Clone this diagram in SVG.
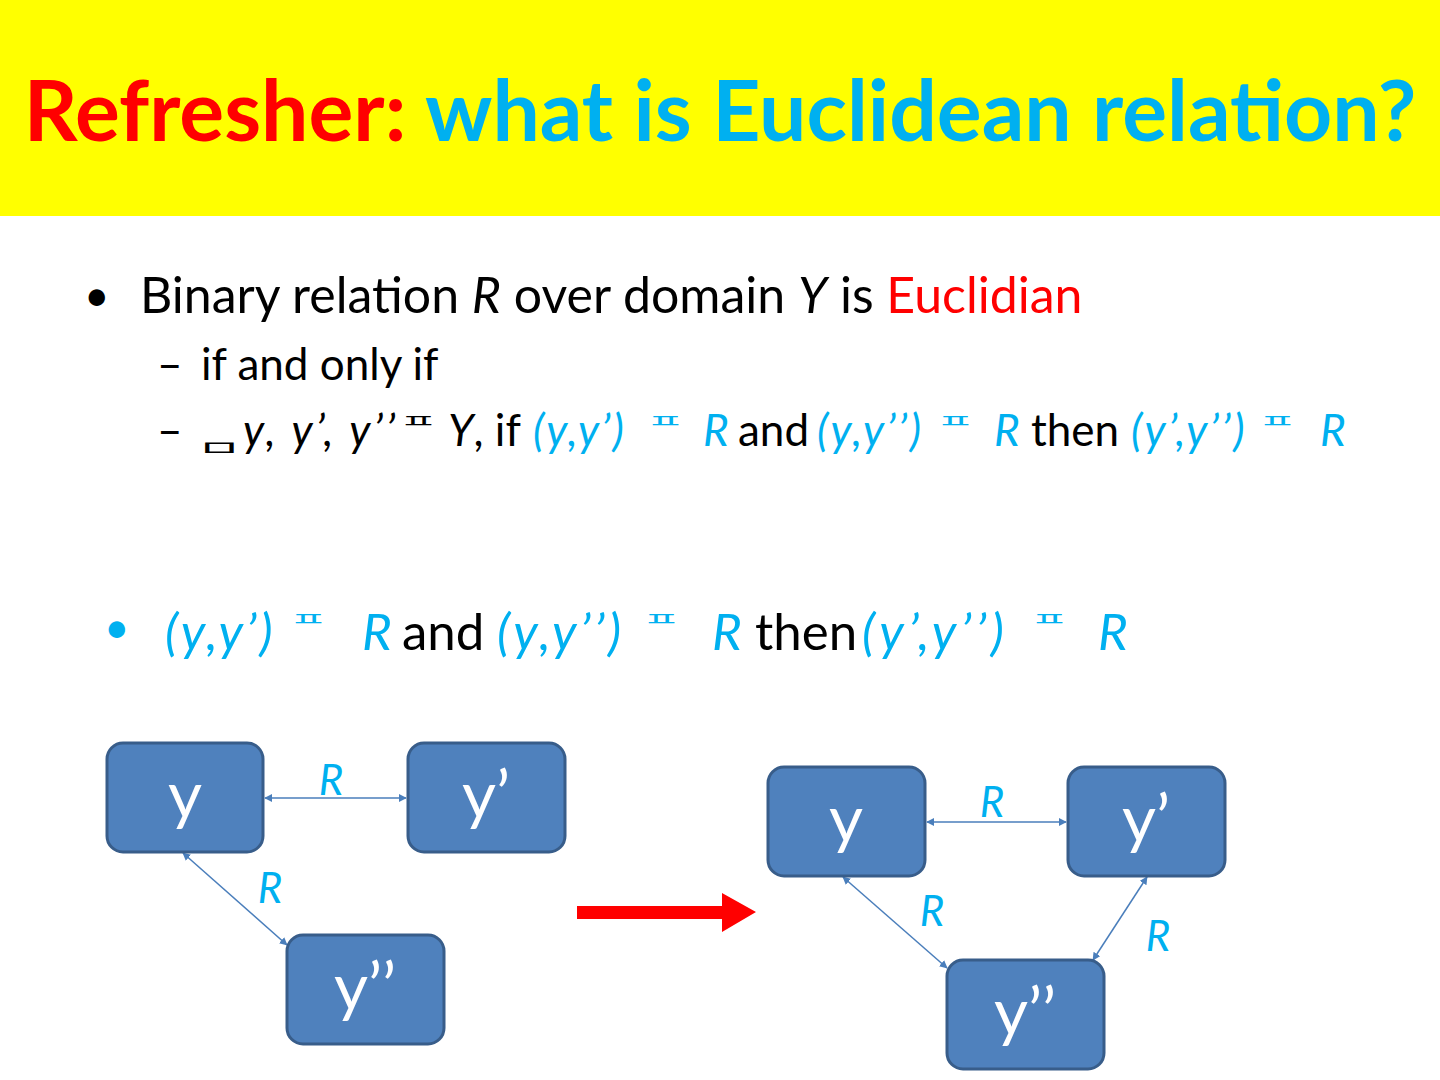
<svg xmlns="http://www.w3.org/2000/svg" width="1440" height="1080" viewBox="0 0 1440 1080">
<style>
.t{font-family:Lato,"Liberation Sans",sans-serif}
.c{fill:#00B0F0}
.i{font-style:italic}
.n{font-style:normal}
.el{font-family:"Noto Sans CJK KR",sans-serif;font-size:42px}
.node rect{fill:#4F81BD;stroke:#385D8A;stroke-width:3}
.node text{font-family:Lato,"Liberation Sans",sans-serif;font-size:66px;fill:#fff;text-anchor:middle}
.lbl{font-family:Lato,"Liberation Sans",sans-serif;font-size:42px;font-style:italic;fill:#00B0F0;text-anchor:middle}
.con line{stroke:#4A7EBB;stroke-width:1.5;marker-start:url(#ah);marker-end:url(#ah)}
</style>
<defs>
<marker id="ah" viewBox="0 0 10 10" refX="9" refY="5" markerWidth="8" markerHeight="8" orient="auto-start-reverse" markerUnits="userSpaceOnUse">
<path d="M0,0 L10,5 L0,10 z" fill="#4A7EBB"/>
</marker>
</defs>
<rect x="0" y="0" width="1440" height="1080" fill="#fff"/>
<rect x="0" y="0" width="1440" height="216" fill="#FFFF00"/>
<text class="t" x="720" y="141" text-anchor="middle" font-size="84" font-weight="bold"><tspan fill="#FF0000">Refresher:</tspan><tspan class="c"> what is Euclidean relation?</tspan></text>

<text class="t" x="84" y="311" font-size="44">•</text>
<text class="t" x="140" y="313" font-size="50">Binary relation <tspan class="i">R</tspan> over domain <tspan class="i">Y</tspan> is <tspan fill="#FF0000">Euclidian</tspan></text>
<text class="t" x="157" y="380" font-size="44">–</text>
<text class="t" x="201" y="380" font-size="44">if and only if</text>

<text class="t" x="157" y="446" font-size="44">–</text>
<text class="el" transform="translate(196,455) scale(1.2,0.5)" font-size="78">ㅁ</text>
<text class="t i" x="243" y="446" font-size="44" letter-spacing="3.3">y, y’, y’’</text>
<text class="el" transform="translate(399,428) scale(1,0.45)">ㅍ</text>
<text class="t i" x="448" y="446" font-size="44">Y<tspan class="n">, if</tspan></text>
<text class="t c i" x="533" y="446" font-size="44" letter-spacing="2.2">(y,y’)</text>
<text class="el c" transform="translate(646,428) scale(1,0.45)">ㅍ</text>
<text class="t c i" x="703" y="446" font-size="44">R</text>
<text class="t" x="738" y="446" font-size="44">and</text>
<text class="t c i" x="817" y="446" font-size="44" letter-spacing="2.5">(y,y’’)</text>
<text class="el c" transform="translate(936,428) scale(1,0.45)">ㅍ</text>
<text class="t c i" x="994" y="446" font-size="44">R</text>
<text class="t" x="1031" y="446" font-size="44">then</text>
<text class="t c i" x="1131" y="446" font-size="44" letter-spacing="2.6">(y’,y’’)</text>
<text class="el c" transform="translate(1258,428) scale(1,0.45)">ㅍ</text>
<text class="t c i" x="1320" y="446" font-size="44">R</text>

<text class="t c" x="104" y="643" font-size="44">•</text>
<text class="t c i" x="165" y="650" font-size="51" letter-spacing="3">(y,y’)</text>
<text class="el c" transform="translate(289,626) scale(1,0.45)">ㅍ</text>
<text class="t c i" x="362" y="650" font-size="51">R</text>
<text class="t" x="402" y="650" font-size="51">and</text>
<text class="t c i" x="497" y="650" font-size="51" letter-spacing="3.5">(y,y’’)</text>
<text class="el c" transform="translate(642,626) scale(1,0.45)">ㅍ</text>
<text class="t c i" x="712" y="650" font-size="51">R</text>
<text class="t" x="755" y="650" font-size="51">then</text>
<text class="t c i" x="862" y="650" font-size="51" letter-spacing="4.5">(y’,y’’)</text>
<text class="el c" transform="translate(1030,626) scale(1,0.45)">ㅍ</text>
<text class="t c i" x="1098" y="650" font-size="51">R</text>

<g id="connectors" class="con">
<line x1="265" y1="798" x2="406" y2="798"/>
<line x1="183" y1="853" x2="287" y2="945"/>
<line x1="927" y1="822" x2="1066" y2="822"/>
<line x1="843" y1="877" x2="947" y2="968"/>
<line x1="1147" y1="877" x2="1093" y2="960"/>
</g>
<g id="labels">
<text class="lbl" x="331" y="795">R</text>
<text class="lbl" x="270" y="903">R</text>
<text class="lbl" x="992" y="817">R</text>
<text class="lbl" x="932" y="926">R</text>
<text class="lbl" x="1158" y="951">R</text>
</g>

<g id="node-left-y" class="node"><rect x="107" y="743" width="156" height="109" rx="16"/><text x="185" y="818">y</text></g>
<g id="node-left-y1" class="node"><rect x="408" y="743" width="157" height="109" rx="16"/><text x="486" y="818">y’</text></g>
<g id="node-left-y2" class="node"><rect x="287" y="935" width="157" height="109" rx="16"/><text x="365" y="1010">y’’</text></g>

<g id="node-right-y" class="node"><rect x="768" y="767" width="157" height="109" rx="16"/><text x="846" y="842">y</text></g>
<g id="node-right-y1" class="node"><rect x="1068" y="767" width="157" height="109" rx="16"/><text x="1146" y="842">y’</text></g>
<g id="node-right-y2" class="node"><rect x="947" y="960" width="157" height="109" rx="16"/><text x="1025" y="1035">y’’</text></g>

<g id="red-arrow"><polygon points="577,906 722,906 722,893 756,912 722,932 722,919 577,919" fill="#FF0000"/></g>
</svg>
